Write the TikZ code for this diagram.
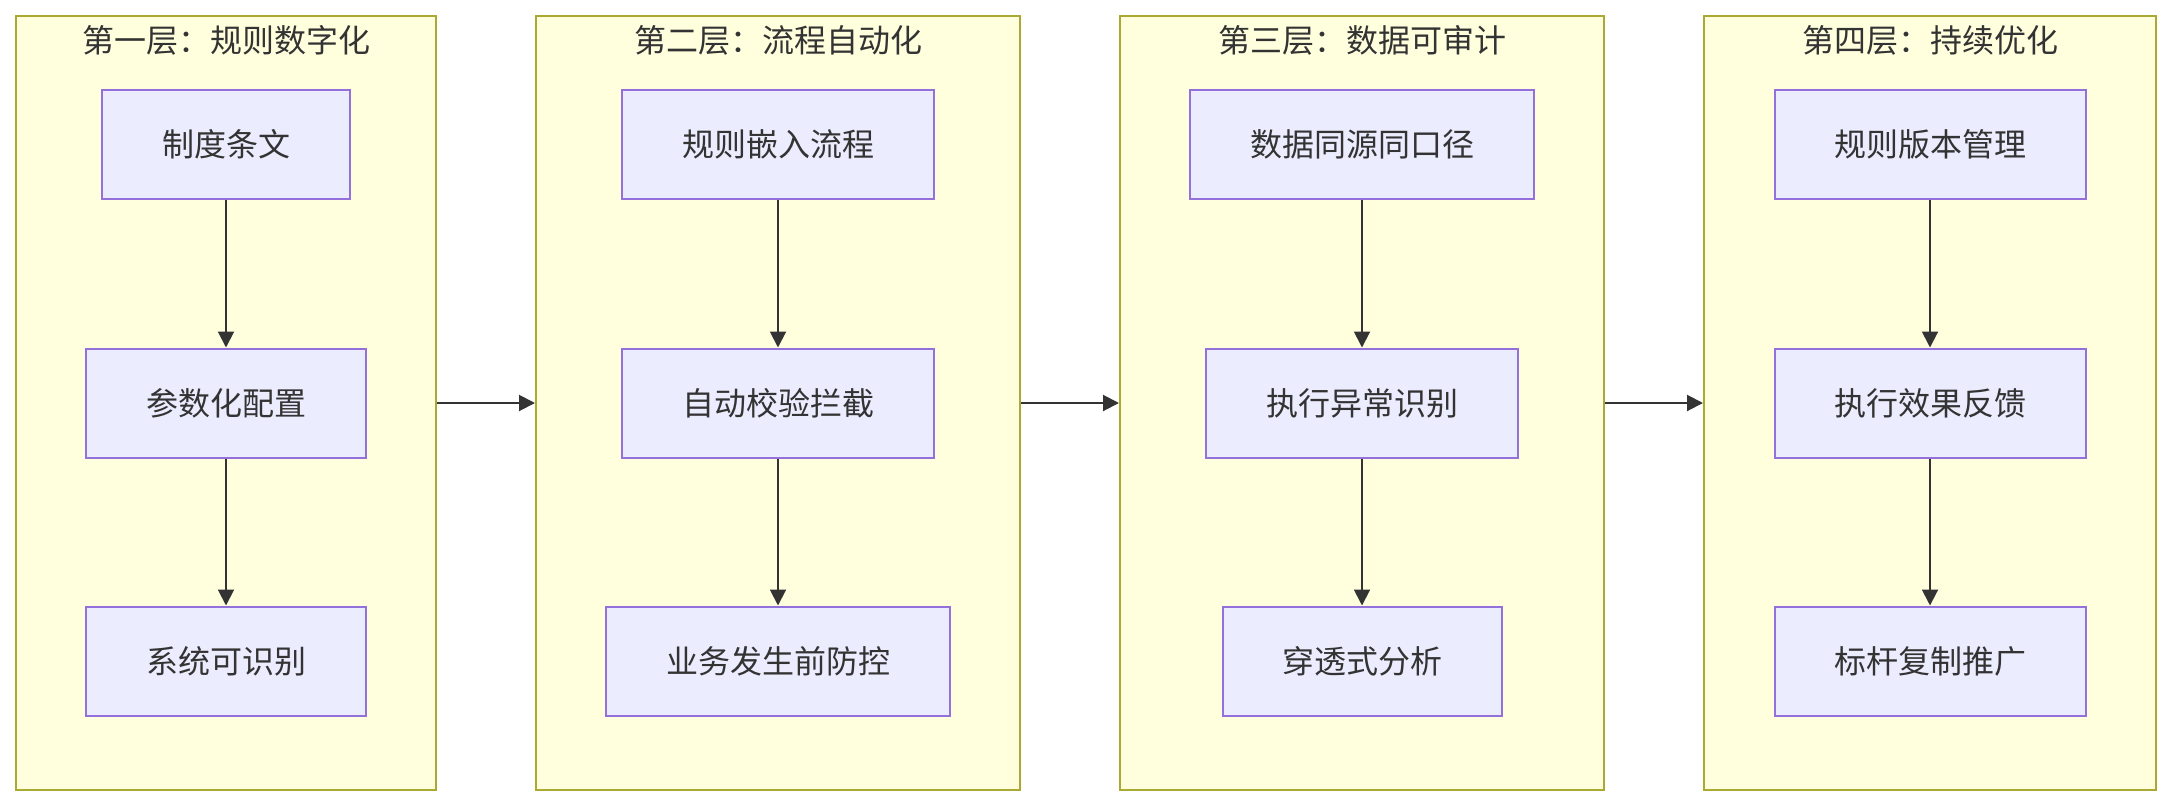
\documentclass[tikz,border=0pt]{standalone}
\usepackage{fontspec}
\setmainfont{Noto Sans CJK SC}
\usetikzlibrary{arrows.meta}
\definecolor{boxfill}{HTML}{ECECFF}
\definecolor{boxline}{HTML}{9370DB}
\definecolor{layerfill}{HTML}{FFFFDE}
\definecolor{layerline}{HTML}{AAAA33}
\definecolor{inkcolor}{HTML}{333333}

\begin{document}
\begin{tikzpicture}[x=1pt, y=-1pt,
    layer/.style={draw=layerline, fill=layerfill, line width=2pt,
                  minimum height=774pt, inner sep=0pt},
    stepbox/.style={draw=boxline, fill=boxfill, line width=2pt,
                    minimum height=109pt, inner sep=0pt, text=inkcolor,
                    font=\fontsize{32}{38}\selectfont},
    layertitle/.style={text=inkcolor, inner sep=0pt,
                       font=\fontsize{32}{38}\selectfont},
    flow/.style={draw=inkcolor, line width=2pt,
                 -{Triangle[length=16pt, width=16pt]}}]
    \useasboundingbox (0,0) rectangle (2172,806);
    % four layers, left to right
    \node[layer, minimum width=420pt] (c1) at (226,403) {};
    \node[layer, minimum width=484pt] (c2) at (778,403) {};
    \node[layer, minimum width=484pt] (c3) at (1362,403) {};
    \node[layer, minimum width=452pt] (c4) at (1930,403) {};
    \node[layertitle] (t1) at (226,40) {第一层：规则数字化};
    \node[layertitle] (t2) at (778,40) {第二层：流程自动化};
    \node[layertitle] (t3) at (1362,40) {第三层：数据可审计};
    \node[layertitle] (t4) at (1930,40) {第四层：持续优化};
    % steps inside each layer
    \node[stepbox, minimum width=248pt] (a1) at (226,144.5) {制度条文};
    \node[stepbox, minimum width=280pt] (a2) at (226,403) {参数化配置};
    \node[stepbox, minimum width=280pt] (a3) at (226,661) {系统可识别};
    \node[stepbox, minimum width=312pt] (b1) at (778,144.5) {规则嵌入流程};
    \node[stepbox, minimum width=312pt] (b2) at (778,403) {自动校验拦截};
    \node[stepbox, minimum width=344pt] (b3) at (778,661) {业务发生前防控};
    \node[stepbox, minimum width=344pt] (d1) at (1362,144.5) {数据同源同口径};
    \node[stepbox, minimum width=312pt] (d2) at (1362,403) {执行异常识别};
    \node[stepbox, minimum width=279pt] (d3) at (1362,661) {穿透式分析};
    \node[stepbox, minimum width=311pt] (e1) at (1930,144.5) {规则版本管理};
    \node[stepbox, minimum width=311pt] (e2) at (1930,403) {执行效果反馈};
    \node[stepbox, minimum width=311pt] (e3) at (1930,661) {标杆复制推广};
    % connectors
    \foreach \col in {a,b,d,e} {
      \draw[flow] (\col1) -- (\col2);
      \draw[flow] (\col2) -- (\col3);
    }
    \draw[flow] (c1.east) -- (c2.west);
    \draw[flow] (c2.east) -- (c3.west);
    \draw[flow] (c3.east) -- (c4.west);
\end{tikzpicture}
\end{document}
